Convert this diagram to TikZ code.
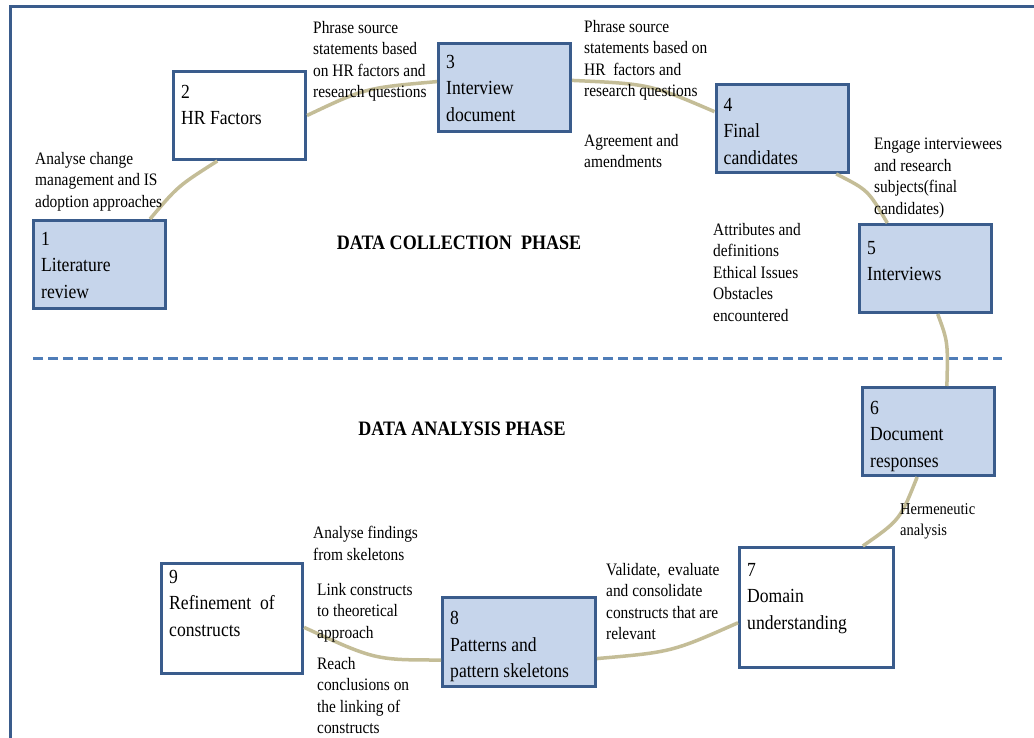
\documentclass[tikz,border=0pt]{standalone}
\usepackage{fontspec}
\setmainfont{Liberation Serif}[FakeStretch=0.88]
\usepackage{tikz}
\definecolor{stageblue}{HTML}{C6D5EB}
\definecolor{framedark}{HTML}{3A5C8C}
\definecolor{dashblue}{HTML}{4F7DB8}
\definecolor{arctan}{HTML}{C4BD97}

\begin{document}
\begin{tikzpicture}[x=1pt, y=-1pt,
    stage/.style={draw=framedark, line width=3pt, fill=white, inner sep=0pt,
      minimum width=132pt, minimum height=88pt},
    stagefill/.style={stage, fill=stageblue},
    stagetext/.style={anchor=north west, align=left, inner xsep=9pt, inner ysep=15pt,
      font=\fontsize{20}{26.5}\selectfont},
    note/.style={anchor=north west, align=left, inner sep=0pt,
      font=\fontsize{17.5}{21.5}\selectfont},
    phase/.style={font=\bfseries\fontsize{20.5}{24}\selectfont},
    arc/.style={draw=arctan, line width=3.5pt}]
    \useasboundingbox (0,0) rectangle (1034,738);
    \fill[white] (0,0) rectangle (1034,738);
    % Frame and phase divider
    \draw[framedark, line width=3pt] (10,738) -- (10,7) -- (1034,7);
    \draw[dashblue, line width=3pt, dash pattern=on 10pt off 5pt] (33,358) -- (1002,358);
    \node[phase] (collect) at (459,243) {DATA COLLECTION\ \ PHASE};
    \node[phase] (analyse) at (462,429) {DATA ANALYSIS PHASE};
    % Stages
    \node[stagefill, label={[stagetext, inner ysep=13pt]north west:{1\\Literature\\review}}] (lit) at (99.5,264.5) {};
    \node[stage, label={[stagetext]north west:{2\\HR Factors}}] (hrf) at (239.5,115.5) {};
    \node[stagefill, label={[stagetext, inner ysep=13pt]north west:{3\\Interview\\document}}] (idoc) at (504.5,87.5) {};
    \node[stagefill, label={[stagetext]north west:{4\\Final\\candidates}}] (fincand) at (782,128.5) {};
    \node[stagefill, label={[stagetext, inner ysep=18pt]north west:{5\\Interviews}}] (intv) at (925.5,268.5) {};
    \node[stagefill, label={[stagetext]north west:{6\\Document\\responses}}] (resp) at (928.5,431.5) {};
    \node[stage, minimum width=154pt, minimum height=120pt,
      label={[stagetext, inner ysep=17pt]north west:{7\\Domain\\understanding}}] (dom) at (816.5,607.5) {};
    \node[stagefill, minimum width=153pt, minimum height=89pt,
      label={[stagetext]north west:{8\\Patterns and\\pattern skeletons}}] (pat) at (519,642) {};
    \node[stage, minimum width=141pt, minimum height=110pt,
      label={[stagetext, inner ysep=8pt]north west:{9\\Refinement\ \ of\\constructs}}] (refine) at (232,618.5) {};
    % Cycle
    \draw[arc] (lit.42) .. controls (178,186) .. (hrf.244);
    \draw[arc] (hrf.east) .. controls (365,88) .. (idoc.175);
    \draw[arc] (idoc.6) .. controls (650,84) .. (fincand.166);
    \draw[arc] (fincand.320) .. controls (868,190) .. (intv.130);
    \draw[arc] (intv.285) .. controls (948,342) .. (resp.68);
    \draw[arc] (resp.256) .. controls (900,520) .. (dom.53);
    \draw[arc] (dom.191) .. controls (672,652) .. (pat.348);
    \draw[arc] (pat.193) .. controls (375,660) .. (refine.353);
    % Notes
    \node[note] (n12) at (35,152) {Analyse change\\management and IS\\adoption approaches};
    \node[note] (n23) at (313,21) {Phrase source\\statements based\\on HR factors and\\research questions};
    \node[note] (n34) at (584,20) {Phrase source\\statements based on\\HR\ \ factors and\\research questions};
    \node[note] (nagree) at (584,134) {Agreement and\\amendments};
    \node[note] (n45) at (874,138) {Engage interviewees\\and research\\subjects(final\\candidates)};
    \node[note] (nattr) at (713,223) {Attributes and\\definitions\\Ethical Issues\\Obstacles\\encountered};
    \node[note, font=\fontsize{16.5}{21}\selectfont] (n67) at (900,503) {Hermeneutic\\analysis};
    \node[note] (n78) at (606,563) {Validate,\ \ evaluate\\and consolidate\\constructs that are\\relevant};
    \node[note] (nfind) at (313,526) {Analyse findings\\from skeletons};
    \node[note] (nlink) at (317,583) {Link constructs\\to theoretical\\approach};
    \node[note] (nreach) at (317,657) {Reach\\conclusions on\\the linking of\\constructs};
\end{tikzpicture}
\end{document}
